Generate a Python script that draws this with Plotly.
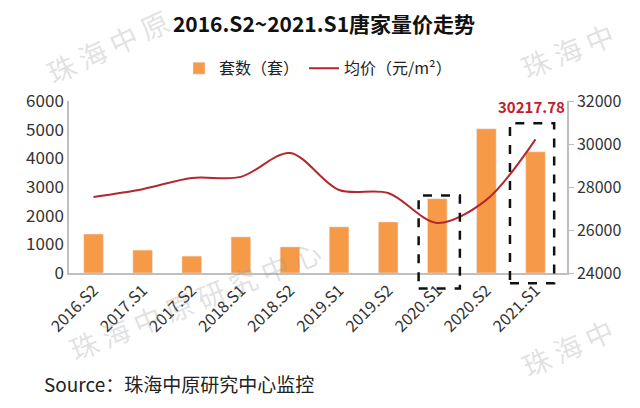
import plotly.graph_objects as go

# --- 数据 ---
periods = ["2016.S2", "2017.S1", "2017.S2", "2018.S1", "2018.S2",
           "2019.S1", "2019.S2", "2020.S1", "2020.S2", "2021.S1"]
units = [1360, 800, 590, 1260, 910, 1610, 1780, 2590, 5030, 4230]
avg_price = [27540, 27900, 28420, 28470, 29580, 27860, 27720, 26330, 27400, 30217.78]
highlight = ["2020.S1", "2021.S1"]

ORANGE = "#F79A48"
RED = "#B3282D"
FONT = "Noto Sans CJK SC"

# 页面 body 默认有 8px 边距, 图按 632x400 画
W, H = 632, 400

fig = go.Figure()

fig.add_trace(go.Bar(
    x=periods, y=units, name="套数（套）",
    marker_color=ORANGE, width=0.4, yaxis="y",
))
fig.add_trace(go.Scatter(
    x=periods, y=avg_price, name="均价（元/m²）", mode="lines",
    line=dict(color=RED, width=2, shape="spline", smoothing=0.9), yaxis="y2",
))

# 虚线框 (x 偏移: 类别单位, y: paper)
box_geom = {"2020.S1": (-0.38, 0.46, -0.09, 0.45),
            "2021.S1": (-0.52, 0.38, -0.06, 0.87)}
for p in highlight:
    i = periods.index(p)
    dx0, dx1, y0, y1 = box_geom[p]
    fig.add_shape(
        type="rect", xref="x", yref="paper",
        x0=i + dx0, x1=i + dx1, y0=y0, y1=y1,
        line=dict(color="#111111", width=2.5, dash="dash"),
    )

# 最新均价标注
fig.add_annotation(
    x=periods[-1], y=avg_price[-1], yref="y2", xref="x",
    text=f"<b>{avg_price[-1]:.2f}</b>", showarrow=False,
    font=dict(color="#C0202A", size=15, family=FONT),
    yshift=33, xshift=-4,
)

# 水印
WM = "rgba(150,150,150,0.28)"
for txt, x, y, ang in [
    ("珠 海 中 原", 0.078, 1.32, -25),
    ("珠 海 中", 1.002, 1.297, -22),
    ("珠 海 中 原 研 究 中 心", 0.253, -0.157, -22),
    ("珠 海 中", 1.002, -0.430, -24),
]:
    fig.add_annotation(
        x=x, y=y, xref="paper", yref="paper", text=txt, showarrow=False,
        xanchor="center", yanchor="middle",
        textangle=ang, font=dict(color=WM, size=28, family=FONT),
    )

fig.add_annotation(
    x=-0.054, y=-0.64, xref="paper", yref="paper", xanchor="left", yanchor="middle",
    text="Source：珠海中原研究中心监控", showarrow=False,
    font=dict(color="#222222", size=19, family=FONT),
)

fig.update_layout(
    width=W, height=H,
    margin=dict(l=61, r=73, t=93, b=135),
    paper_bgcolor="white", plot_bgcolor="white",
    font=dict(family=FONT, color="#333333"),
    title=dict(
        text="<b>2016.S2~2021.S1唐家量价走势</b>",
        x=0.5, xanchor="center", y=1 - 17 / H, yanchor="middle",
        font=dict(size=21, color="#111111", family=FONT),
    ),
    legend=dict(
        orientation="h", x=0.5, xanchor="center", y=1.19, yanchor="middle",
        font=dict(size=16, color="#222222", family=FONT),
        bgcolor="rgba(0,0,0,0)", traceorder="normal",
    ),
    xaxis=dict(
        type="category", tickangle=-45, showgrid=False, automargin=False,
        showline=True, linecolor="#BFBFBF", linewidth=1.5,
        tickfont=dict(size=16, color="#333333"), ticks="",
    ),
    yaxis=dict(
        range=[0, 6000], dtick=1000, showgrid=False, zeroline=False, automargin=False,
        showline=True, linecolor="#BFBFBF", linewidth=1.5,
        tickfont=dict(size=17, color="#333333"), tickformat="d",
    ),
    yaxis2=dict(
        range=[24000, 32000], dtick=2000, overlaying="y", side="right",
        showgrid=False, zeroline=False, automargin=False,
        showline=True, linecolor="#BFBFBF", linewidth=1.5,
        ticks="outside", ticklen=5, tickcolor="#BFBFBF",
        tickfont=dict(size=16, color="#333333"), tickformat="d",
    ),
    bargap=0.6,
)

fig.write_html("out.html")
